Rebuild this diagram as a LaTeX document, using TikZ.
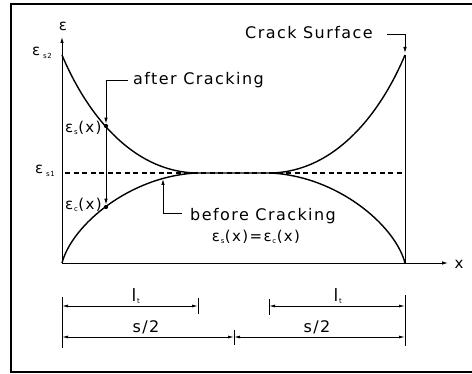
\documentclass[tikz,border=0pt]{standalone}
\usepackage{fontspec}
\setmainfont{DejaVu Sans}[LetterSpace=9]
\usetikzlibrary{arrows.meta}
\newcommand\sbs[1]{\kern0.8pt\raisebox{-2.5pt}{\fontsize{7}{8}\selectfont #1}\kern0.5pt}
\newcommand\lblfont{\fontsize{16}{19}\selectfont}
\newcommand\symfont{\fontsize{15}{18}\selectfont}
\begin{document}
\begin{tikzpicture}[x=1pt,y=-1pt,
  curve/.style={line width=1.4pt},
  axisline/.style={line width=0.9pt},
  leader/.style={line width=0.9pt},
  dimline/.style={line width=0.8pt},
  tip/.style={-{Latex[length=6pt,width=3.5pt]}},
  dimtips/.style={{Latex[length=6pt,width=3pt]}-{Latex[length=6pt,width=3pt]}},
  lbl/.style={inner sep=0pt, font=\lblfont},
  sym/.style={inner sep=0pt, font=\symfont},
  dot/.style={circle, fill, inner sep=0pt, minimum size=4.2pt}]
\useasboundingbox (0,0) rectangle (472,374);
% frame
\draw[line width=1.3pt] (472,4) -- (11,4) -- (11,372) -- (472,372);
% key points
\coordinate (O) at (62,263);
\coordinate (Ytop) at (62,37);
\coordinate (Xend) at (448,263);
\coordinate (E2L) at (62,55);
\coordinate (E2R) at (405,55);
\coordinate (Cbot) at (405,263);
\coordinate (E1L) at (65,173);
\coordinate (E1R) at (405,173);
\coordinate (ML) at (197,173);
\coordinate (MR) at (270,173);
% axes
\draw[axisline,tip] (O) -- (Ytop);
\draw[axisline,tip] (O) -- (Xend);
\draw[axisline] (Cbot) -- (E2R);
% dashed level
\draw[line width=1.2pt, dash pattern=on 5pt off 3.5pt] (E1L) -- (E1R);
% curves
\draw[curve] (E2L) .. controls (85,110) and (130,172) .. (ML) -- (MR)
   .. controls (337,172) and (382,110) .. (E2R);
\draw[curve] (O) .. controls (72,225) and (130,176) .. (ML);
\draw[curve] (MR) .. controls (337,176) and (395,225) .. (Cbot);
% dots
\node[dot] (dS) at (106,126) {};
\node[dot] (dC) at (106,207) {};
% axis labels
\node[sym] (eps) at (63,26) {ε};
\node[sym] (xlab) at (459,264) {x};
\node[sym, anchor=west] (es2) at (32,53) {ε\kern2pt\sbs{s2}};
\node[sym, anchor=west] (es1) at (35,171) {ε\kern2pt\sbs{s1}};
\node[sym, anchor=west] (esx) at (65,128) {ε\sbs{s}(x)};
\node[sym, anchor=west] (ecx) at (65,205) {ε\sbs{c}(x)};
% after cracking leader
\node[lbl, anchor=west] (after) at (133,80) {after Cracking};
\coordinate (aS) at (128,80);
\coordinate (aK) at (106,80);
\draw[leader,tip] (aS) -- (aK) -- (dS.north);
\draw[leader,tip] (dS) -- (dC.north);
% before cracking leader
\node[lbl, anchor=west] (before) at (190,216) {before Cracking};
\node[sym] (eq) at (256,237) {ε\sbs{s}(x)=ε\sbs{c}(x)};
\coordinate (bS) at (182,213);
\coordinate (bK) at (163,213);
\coordinate (bT) at (163,179);
\draw[leader,tip] (bS) -- (bK) -- (bT);
% crack surface leader
\node[lbl, anchor=west] (crack) at (245,33) {Crack Surface};
\coordinate (cS) at (387,34);
\coordinate (cK) at (405,34);
\coordinate (cT) at (405,53);
\draw[leader,tip] (cS) -- (cK) -- (cT);
% dimension ticks
\draw[dimline] (62,297) -- (62,348);
\draw[dimline] (198,298) -- (198,314);
\draw[dimline] (234,330) -- (234,345);
\draw[dimline] (269,299) -- (269,315);
\draw[dimline] (405,295) -- (405,346);
% dimension lines
\coordinate (L0) at (62,306);
\coordinate (L1) at (198,306);
\coordinate (R0) at (269,306);
\coordinate (R1) at (405,306);
\coordinate (S0) at (62,337);
\coordinate (SM) at (234,337);
\coordinate (S1) at (405,337);
\draw[dimline,dimtips] (L0) -- (L1);
\draw[dimline,dimtips] (R0) -- (R1);
\draw[dimline,dimtips] (S0) -- (SM);
\draw[dimline,dimtips] (SM) -- (S1);
% dimension labels
\node[lbl, font=\fontsize{17}{20}\selectfont] (lt1) at (136,296) {l\sbs{t}};
\node[lbl, font=\fontsize{17}{20}\selectfont] (lt2) at (338,296) {l\sbs{t}};
\node[lbl] (s1) at (146,327) {s/2};
\node[lbl] (s2) at (317,327) {s/2};
\end{tikzpicture}
\end{document}
